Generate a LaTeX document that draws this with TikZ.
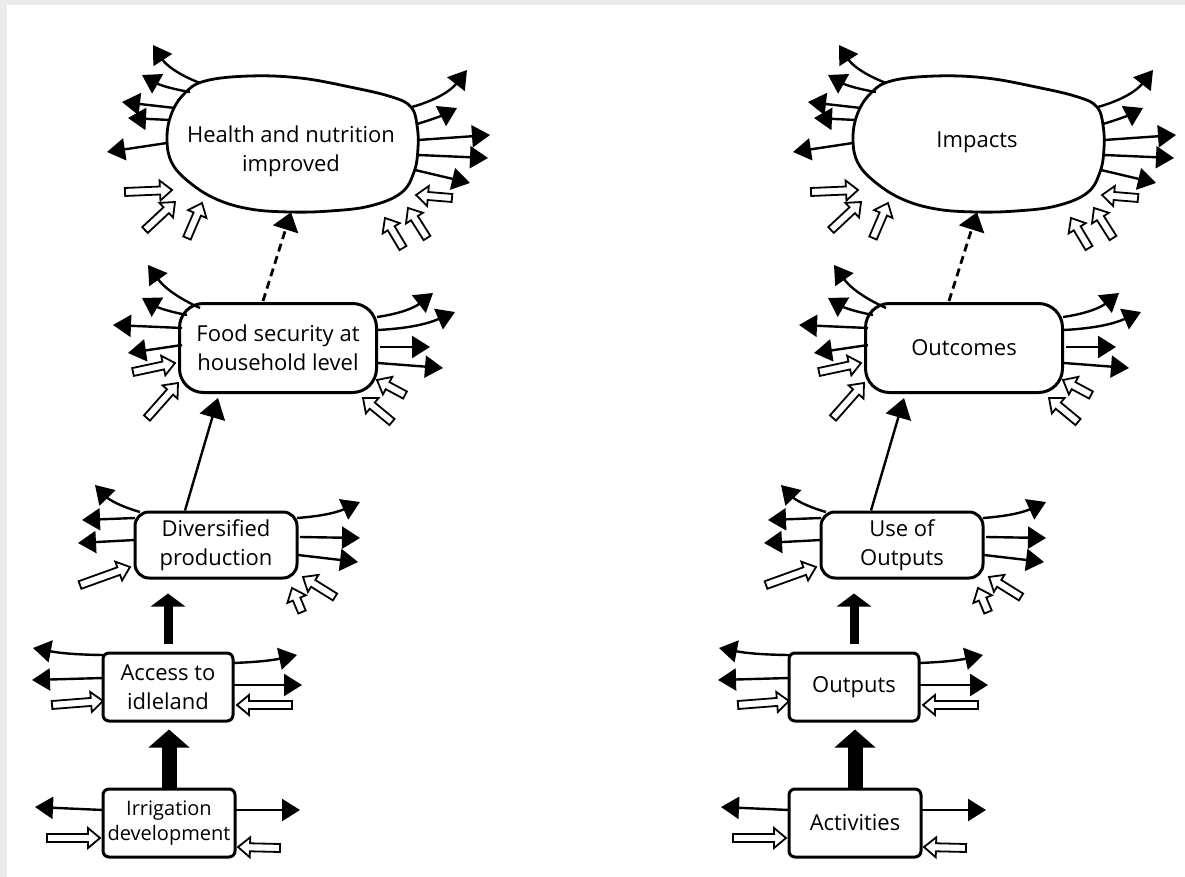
\documentclass[tikz,border=0pt]{standalone}
\usepackage{fontspec}
\setmainfont{Open Sans}
\usetikzlibrary{arrows.meta,calc}

\newcommand\labelfont{\fontsize{22}{29}\selectfont}
\newcommand\smallfont{\fontsize{20}{25}\selectfont}

\tikzset{
  boxnode/.style={draw, line width=3pt, fill=white, inner sep=0pt, align=center, font=\labelfont},
  blobline/.style={line width=2.8pt, fill=white},
  ray/.style={line width=2.4pt, -{Triangle[length=18pt,width=22pt]}},
  hollowline/.style={line width=1.8pt, fill=white, line join=miter},
  hugearrow/.style={line width=15pt, -{Triangle[length=18pt,width=40pt]}},
  thickarrow/.style={line width=9pt, -{Triangle[length=13pt,width=34pt]}},
  thinarrow/.style={line width=2.4pt, -{Triangle[length=20pt,width=26pt]}},
  dasharrow/.style={line width=2.8pt, dash pattern=on 8pt off 5pt, -{Triangle[length=18pt,width=26pt]}},
}

% open block arrow from #1 (tail) to #2 (tip)
\newcommand\hollowarrow[2]{%
  \draw[hollowline] let \p1=(#1), \p2=(#2),
      \n1={atan2(\y2-\y1,\x2-\x1)}, \n2={veclen(\x2-\x1,\y2-\y1)} in
    {[shift={(\p1)}, rotate=\n1]
      (0pt,-4pt) -- ({(\n2-12)*1pt},-4pt) -- ({(\n2-12)*1pt},-10pt) -- ({\n2*1pt},0pt)
      -- ({(\n2-12)*1pt},10pt) -- ({(\n2-12)*1pt},4pt) -- (0pt,4pt) -- cycle};
}

% one results chain: #1 prefix, #2 horizontal offset, #3..#7 texts from bottom to top,
% #8 font of the bottom box, #9 vertical position of the top text
\newcommand\drawpanel[9]{%
\begin{scope}[xshift=#2pt]
  % boxes
  \node[boxnode, rounded corners=6pt, minimum width=132pt, minimum height=68pt, font=#8] (#1i) at (169,823) {#3};
  \node[boxnode, rounded corners=6pt, minimum width=130pt, minimum height=68pt] (#1a) at (168,687) {#4};
  \node[boxnode, rounded corners=14pt, minimum width=162pt, minimum height=66pt] (#1d) at (216,545) {#5};
  \node[boxnode, rounded corners=24pt, minimum width=197pt, minimum height=89pt] (#1f) at (278,348) {#6};
  \node[minimum width=250pt, minimum height=136pt, inner sep=0pt] (#1h) at (291,144) {};
  \draw[blobline] plot[smooth cycle, tension=0.65] coordinates {
    (205,81) (250,76) (300,78) (350,87) (392,97) (411,107)
    (417,125) (418,148) (414,172) (401,193) (370,206) (330,211)
    (290,212) (250,209) (216,199) (189,182) (172,163) (167,140)
    (171,115) (184,94)};
  \node[font=\labelfont, align=center, inner sep=0pt] (#1ht) at (291,#9) {#7};

  % links of the chain
  \draw[hugearrow, shorten >=7pt] (#1i.north) -- (#1i.north |- #1a.south);
  \draw[thickarrow, shorten >=14pt, shorten <=8pt] (#1a.north) -- (#1a.north |- #1d.south);
  \draw[thinarrow] ($(#1d.north)+(-31,0)$) -- ($(#1f.south)+(-60,4)$);
  \draw[dasharrow] ($(#1f.north)+(-15,-1)$) -- (#1h.south);

  % effects leaving each level
  \foreach \ax/\ay/\bx/\by/\bd in {-91/-61/-138/-99/18, -101/-52/-149/-69/10,
      -116/-36/-169/-42/0, -121/-24/-163/-26/0, -124/-1/-184/8/0,
      121/-37/176/-74/-18, 126/-20/166/-36/-5, 127/-4/199/-9/0,
      127/11/197/14/0, 124/26/179/39/0}
    {\draw[ray] ($(#1h)+(\ax,\ay)$) to[bend left=\bd] ($(#1h)+(\bx,\by)$);}
  \foreach \ax/\ay/\bx/\by/\bd in {-78/-40/-130/-83/15, -91/-33/-136/-50/10,
      -96/-20/-165/-23/0, -96/-3/-150/5/0, 99/-31/155/-55/-15,
      100/-18/177/-36/-10, 102/-1/152/-1/0, 100/15/165/20/0}
    {\draw[ray] ($(#1f)+(\ax,\ay)$) to[bend left=\bd] ($(#1f)+(\bx,\by)$);}
  \foreach \ax/\ay/\bx/\by/\bd in {-76/-33/-121/-60/15, -81/-27/-134/-25/0,
      -81/-5/-138/-2/0, 81/-27/144/-43/-10, 84/-8/144/-7/0, 82/10/142/17/0}
    {\draw[ray] ($(#1d)+(\ax,\ay)$) to[bend left=\bd] ($(#1d)+(\bx,\by)$);}
  \foreach \ax/\ay/\bx/\by/\bd in {-65/-32/-135/-39/5, -65/-9/-136/-7/0,
      65/-24/129/-32/-5, 65/-2/134/-2/0}
    {\draw[ray] ($(#1a)+(\ax,\ay)$) to[bend left=\bd] ($(#1a)+(\bx,\by)$);}
  \foreach \ax/\ay/\bx/\by/\bd in {-66/-13/-134/-16/0, 66/-13/131/-13/0}
    {\draw[ray] ($(#1i)+(\ax,\ay)$) to[bend left=\bd] ($(#1i)+(\bx,\by)$);}

  % influences coming in from outside
  \foreach \ax/\ay/\bx/\by in {-166/48/-119/46, -146/86/-116/58, -104/94/-89/59,
      161/54/125/51, 112/104/94/74, 136/94/117/64}
    {\hollowarrow{$(#1h)+(\ax,\ay)$}{$(#1h)+(\bx,\by)$}}
  \foreach \ax/\ay/\bx/\by in {-145/24/-103/15, -131/70/-100/35,
      127/47/99/32, 114/74/85/50}
    {\hollowarrow{$(#1f)+(\ax,\ay)$}{$(#1f)+(\bx,\by)$}}
  \foreach \ax/\ay/\bx/\by in {-136/40/-86/22, 119/52/87/32, 86/67/76/43}
    {\hollowarrow{$(#1d)+(\ax,\ay)$}{$(#1d)+(\bx,\by)$}}
  \foreach \ax/\ay/\bx/\by in {-116/18/-65/14, 124/18/69/18}
    {\hollowarrow{$(#1a)+(\ax,\ay)$}{$(#1a)+(\bx,\by)$}}
  \foreach \ax/\ay/\bx/\by in {-122/15/-69/15, 111/25/69/24}
    {\hollowarrow{$(#1i)+(\ax,\ay)$}{$(#1i)+(\bx,\by)$}}
\end{scope}}

\begin{document}
\begin{tikzpicture}[x=1pt, y=-1pt]
  \useasboundingbox (0,0) rectangle (1185,877);
  \fill[black!8] (0,0) rectangle (1185,877);
  \fill[white] (7,5) rectangle (1185,877);

  \drawpanel{L}{0}{Irrigation\\development}{Access to\\idleland}{Diversified\\production}
    {Food security at\\household level}{Health and nutrition\\improved}{\smallfont}{151}
  \drawpanel{R}{686}{Activities}{Outputs}{Use of\\Outputs}
    {Outcomes}{Impacts}{\labelfont}{142}
\end{tikzpicture}
\end{document}
